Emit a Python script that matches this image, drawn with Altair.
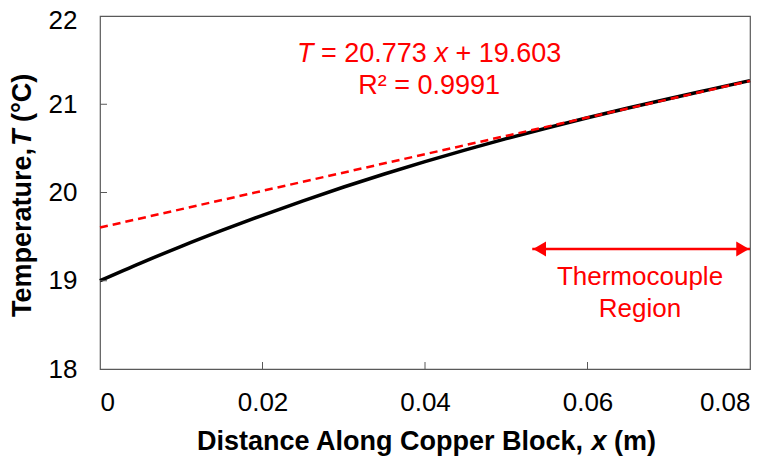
import altair as alt
import pandas as pd

# ---- data ----
x_pos = [0.0, 0.005, 0.01, 0.015, 0.02, 0.025, 0.03, 0.035, 0.04,
         0.045, 0.05, 0.055, 0.06, 0.065, 0.07, 0.075, 0.08]
temp = [19.000, 19.200, 19.390, 19.570, 19.742, 19.906, 20.062, 20.210, 20.350,
        20.483, 20.610, 20.731, 20.847, 20.957, 21.063, 21.166, 21.268]

fit_x = [0.0, 0.08]
fit_T = [19.603, 21.265]

x_tick_vals = [0, 0.02, 0.04, 0.06, 0.08]
y_tick_vals = [18, 19, 20, 21, 22]
x_inner_ticks = [0.02, 0.04, 0.06]
y_inner_ticks = [19, 20, 21]

arrow_x = [0.0532, 0.08]
arrow_T = [19.36, 19.36]

FONT = "Liberation Sans"
RED = "#FF0000"
GRID = "#595959"
W, H = 650, 353

xs = alt.Scale(domain=[0, 0.08], nice=False, zero=False)
ys = alt.Scale(domain=[18, 22], nice=False, zero=False)

x_axis = alt.Axis(values=x_tick_vals, format=".2~f", ticks=False, domain=False, grid=False,
                  labelFont=FONT, labelFontSize=26, labelColor="#000000", labelPadding=20)
y_axis = alt.Axis(values=y_tick_vals, format="d", ticks=False, domain=False, grid=False,
                  labelFont=FONT, labelFontSize=26, labelColor="#000000", labelPadding=23,
                  labelOffset={"condition": {"test": "datum.value == 22", "value": 4}, "value": 0})

df_curve = pd.DataFrame({"x": x_pos, "T": temp})
df_fit = pd.DataFrame({"x": fit_x, "T": fit_T})

curve = alt.Chart(df_curve).mark_line(color="#000000", strokeWidth=3.5, interpolate="monotone").encode(
    x=alt.X("x:Q", scale=xs, axis=x_axis, title=None),
    y=alt.Y("T:Q", scale=ys, axis=y_axis, title=None),
)

fit = alt.Chart(df_fit).mark_line(color=RED, strokeWidth=2.5, strokeDash=[8, 5]).encode(
    x=alt.X("x:Q", scale=xs),
    y=alt.Y("T:Q", scale=ys),
)

yt = alt.Chart(pd.DataFrame({"v": y_inner_ticks})).mark_rule(color=GRID, strokeWidth=1).encode(
    y=alt.Y("v:Q", scale=ys), x=alt.value(0), x2=alt.value(7))
xt = alt.Chart(pd.DataFrame({"v": x_inner_ticks})).mark_rule(color=GRID, strokeWidth=1).encode(
    x=alt.X("v:Q", scale=xs), y=alt.value(H), y2=alt.value(H - 7))

# arrow
df_arrow = pd.DataFrame({"x": arrow_x, "T": arrow_T})
arrow_line = alt.Chart(df_arrow).mark_line(color=RED, strokeWidth=2.5).encode(
    x=alt.X("x:Q", scale=xs), y=alt.Y("T:Q", scale=ys))
head_l = alt.Chart(pd.DataFrame({"x": [arrow_x[0] + 0.0009], "T": [arrow_T[0]]})).mark_point(
    shape="triangle-left", filled=True, size=220, color=RED, opacity=1).encode(
    x=alt.X("x:Q", scale=xs), y=alt.Y("T:Q", scale=ys))
head_r = alt.Chart(pd.DataFrame({"x": [arrow_x[1] - 0.0009], "T": [arrow_T[1]]})).mark_point(
    shape="triangle-right", filled=True, size=220, color=RED, opacity=1).encode(
    x=alt.X("x:Q", scale=xs), y=alt.Y("T:Q", scale=ys))


def dtext(xv, tv, s, size, dx=0, style="normal", weight="normal", align="left", color=RED):
    return alt.Chart(pd.DataFrame({"x": [xv], "T": [tv], "s": [s]})).mark_text(
        font=FONT, fontSize=size, fontStyle=style, fontWeight=weight, align=align,
        baseline="middle", dx=dx, color=color).encode(
        x=alt.X("x:Q", scale=xs), y=alt.Y("T:Q", scale=ys), text="s:N")


def ptext(px, py, s, size, dx=0, style="normal", weight="bold", angle=0):
    return alt.Chart(pd.DataFrame({"s": [s]})).mark_text(
        font=FONT, fontSize=size, fontStyle=style, fontWeight=weight, align="left",
        baseline="middle", dx=dx, angle=angle, color="#000000").encode(
        x=alt.value(px), y=alt.value(py), text="s:N")


fs = 27
u = fs / 1000.0
eq_x, eq_T = 0.02425, 21.57
eq = [
    dtext(eq_x, eq_T, "T", fs, 0, style="italic"),
    dtext(eq_x, eq_T, "=", fs, 889 * u),
    dtext(eq_x, eq_T, "20.773", fs, 1751 * u),
    dtext(eq_x, eq_T, "x", fs, 5087 * u, style="italic"),
    dtext(eq_x, eq_T, "+", fs, 5865 * u),
    dtext(eq_x, eq_T, "19.603", fs, 6727 * u),
    dtext(0.0405, 21.207, "R² = 0.9991", fs, align="center"),
    dtext(0.06646, 19.04, "Thermocouple", 26, align="center"),
    dtext(0.06646, 18.68, "Region", 26, align="center"),
]

tfs = 27
tu = tfs / 1000.0
xtitle = [
    ptext(97, 425.5, "Distance Along Copper Block,", tfs),
    ptext(97, 425.5, "x", tfs, dx=14614 * tu, style="italic"),
    ptext(97, 425.5, "(m)", tfs, dx=15448 * tu),
]
ytitle = [
    ptext(-77, 301, "Temperature,", tfs, angle=270),
    ptext(-77, 301, "T", tfs, dx=6335 * tu, style="italic", angle=270),
    ptext(-77, 301, "(°C)", tfs, dx=7224 * tu, angle=270),
]

chart = alt.layer(
    curve, fit, yt, xt, arrow_line, head_l, head_r, *eq, *xtitle, *ytitle
).properties(
    width=W, height=H,
    padding={"left": 92, "top": 8, "right": 24, "bottom": 90},
    autosize=alt.AutoSizeParams(type="none"),
    background="#FFFFFF",
).configure_view(stroke=GRID, strokeWidth=1.2)

chart.save("out.html", embed_options={"renderer": "svg", "actions": False})
